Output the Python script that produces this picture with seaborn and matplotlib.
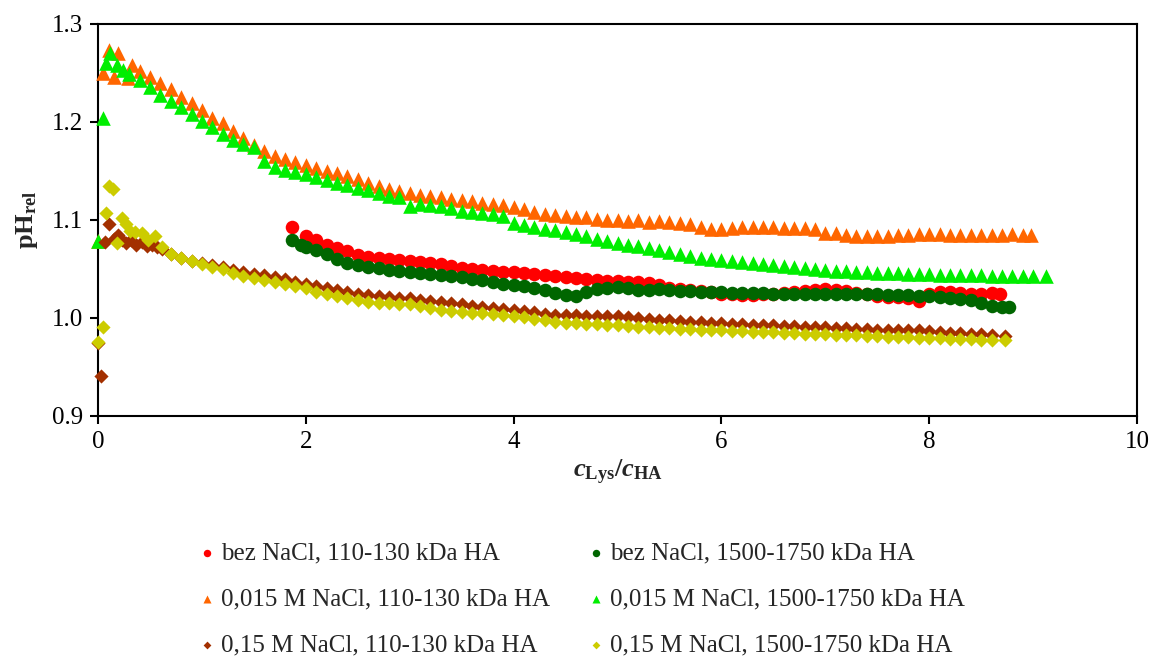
import matplotlib
matplotlib.use("Agg")
import matplotlib.pyplot as plt
import pandas as pd
import seaborn as sns
from matplotlib.ticker import FormatStrFormatter

# ---------------- data ----------------
labels = [
    "bez NaCl, 110-130 kDa HA",
    "bez NaCl, 1500-1750 kDa HA",
    "0,015 M NaCl, 110-130 kDa HA",
    "0,015 M NaCl, 1500-1750 kDa HA",
    "0,15 M NaCl, 110-130 kDa HA",
    "0,15 M NaCl, 1500-1750 kDa HA",
]

bez_110 = [(1.87, 1.093), (2.0, 1.084), (2.1, 1.080), (2.2, 1.075), (2.3, 1.071), (2.4, 1.068),
           (2.5, 1.064), (2.6, 1.062), (2.7, 1.061), (2.8, 1.060), (2.9, 1.059), (3.0, 1.058),
           (3.1, 1.057), (3.2, 1.056), (3.3, 1.055), (3.4, 1.053), (3.5, 1.051), (3.6, 1.050),
           (3.7, 1.049), (3.8, 1.048), (3.9, 1.047), (4.0, 1.047), (4.1, 1.046), (4.2, 1.045),
           (4.3, 1.044), (4.4, 1.043), (4.5, 1.042), (4.6, 1.041), (4.7, 1.040), (4.8, 1.039),
           (4.9, 1.038), (5.0, 1.038), (5.1, 1.037), (5.2, 1.037), (5.3, 1.036), (5.4, 1.034),
           (5.5, 1.031), (5.6, 1.030), (5.7, 1.029), (5.8, 1.028), (5.9, 1.027), (6.0, 1.025),
           (6.1, 1.024), (6.2, 1.023), (6.3, 1.023), (6.4, 1.024), (6.5, 1.025), (6.6, 1.026),
           (6.7, 1.027), (6.8, 1.028), (6.9, 1.029), (7.0, 1.030), (7.1, 1.029), (7.2, 1.028),
           (7.3, 1.026), (7.4, 1.024), (7.5, 1.022), (7.6, 1.021), (7.7, 1.021), (7.8, 1.020),
           (7.9, 1.017), (8.0, 1.024), (8.1, 1.027), (8.2, 1.027), (8.3, 1.026), (8.4, 1.025),
           (8.5, 1.025), (8.6, 1.026), (8.68, 1.025)]

bez_1500 = [(1.87, 1.080), (1.95, 1.074), (2.0, 1.072), (2.1, 1.069), (2.2, 1.065), (2.3, 1.060),
            (2.4, 1.056), (2.5, 1.054), (2.6, 1.052), (2.7, 1.051), (2.8, 1.049), (2.9, 1.048),
            (3.0, 1.047), (3.1, 1.046), (3.2, 1.045), (3.3, 1.044), (3.4, 1.043), (3.5, 1.042),
            (3.6, 1.040), (3.7, 1.039), (3.8, 1.037), (3.9, 1.035), (4.0, 1.034), (4.1, 1.033),
            (4.2, 1.031), (4.3, 1.029), (4.4, 1.026), (4.5, 1.023), (4.6, 1.022), (4.7, 1.027),
            (4.8, 1.030), (4.9, 1.031), (5.0, 1.032), (5.1, 1.031), (5.2, 1.029), (5.3, 1.029),
            (5.4, 1.030), (5.5, 1.029), (5.6, 1.028), (5.7, 1.028), (5.8, 1.027), (5.9, 1.027),
            (6.0, 1.027), (6.1, 1.026), (6.2, 1.026), (6.3, 1.026), (6.4, 1.026), (6.5, 1.025),
            (6.6, 1.025), (6.7, 1.025), (6.8, 1.025), (6.9, 1.025), (7.0, 1.025), (7.1, 1.025),
            (7.2, 1.024), (7.3, 1.024), (7.4, 1.024), (7.5, 1.024), (7.6, 1.023), (7.7, 1.023),
            (7.8, 1.023), (7.9, 1.022), (8.0, 1.022), (8.1, 1.021), (8.2, 1.020), (8.3, 1.019),
            (8.4, 1.018), (8.5, 1.015), (8.6, 1.012), (8.7, 1.011), (8.77, 1.011)]

m015_110 = [(0.0, 1.079), (0.045, 1.250), (0.11, 1.273), (0.15, 1.246), (0.195, 1.270), (0.29, 1.245),
            (0.33, 1.258), (0.4, 1.252), (0.5, 1.246), (0.6, 1.240), (0.7, 1.234), (0.8, 1.226),
            (0.9, 1.219), (1.0, 1.212), (1.1, 1.204), (1.2, 1.199), (1.3, 1.191), (1.4, 1.184),
            (1.5, 1.177), (1.6, 1.170), (1.7, 1.165), (1.8, 1.162), (1.9, 1.159), (2.0, 1.156),
            (2.1, 1.153), (2.2, 1.150), (2.3, 1.148), (2.4, 1.145), (2.5, 1.142), (2.6, 1.138),
            (2.7, 1.135), (2.8, 1.132), (2.9, 1.130), (3.0, 1.128), (3.1, 1.126), (3.2, 1.125),
            (3.3, 1.123), (3.4, 1.121), (3.5, 1.120), (3.6, 1.119), (3.7, 1.117), (3.8, 1.116),
            (3.9, 1.115), (4.0, 1.113), (4.1, 1.111), (4.2, 1.108), (4.3, 1.106), (4.4, 1.105),
            (4.5, 1.104), (4.6, 1.103), (4.7, 1.103), (4.8, 1.101), (4.9, 1.100), (5.0, 1.100),
            (5.1, 1.099), (5.2, 1.100), (5.3, 1.098), (5.4, 1.099), (5.5, 1.098), (5.6, 1.097),
            (5.7, 1.096), (5.8, 1.093), (5.9, 1.091), (6.0, 1.091), (6.1, 1.092), (6.2, 1.093),
            (6.3, 1.093), (6.4, 1.093), (6.5, 1.093), (6.6, 1.092), (6.7, 1.092), (6.8, 1.092),
            (6.9, 1.091), (7.0, 1.087), (7.1, 1.087), (7.2, 1.085), (7.3, 1.084), (7.4, 1.084),
            (7.5, 1.084), (7.6, 1.084), (7.7, 1.085), (7.8, 1.085), (7.9, 1.086), (8.0, 1.086),
            (8.1, 1.086), (8.2, 1.085), (8.3, 1.085), (8.4, 1.085), (8.5, 1.085), (8.6, 1.085),
            (8.7, 1.085), (8.8, 1.086), (8.9, 1.085), (8.98, 1.085)]

m015_1500 = [(0.0, 1.079), (0.045, 1.204), (0.08, 1.260), (0.12, 1.270), (0.18, 1.258), (0.24, 1.253),
             (0.3, 1.249), (0.4, 1.243), (0.5, 1.236), (0.6, 1.228), (0.7, 1.221), (0.8, 1.215),
             (0.9, 1.208), (1.0, 1.201), (1.1, 1.195), (1.2, 1.188), (1.3, 1.182), (1.4, 1.178),
             (1.5, 1.174), (1.6, 1.160), (1.7, 1.154), (1.8, 1.151), (1.9, 1.149), (2.0, 1.147),
             (2.1, 1.144), (2.2, 1.141), (2.3, 1.138), (2.4, 1.136), (2.5, 1.133), (2.6, 1.131),
             (2.7, 1.128), (2.8, 1.125), (2.9, 1.123), (3.0, 1.114), (3.1, 1.116), (3.2, 1.115),
             (3.3, 1.114), (3.4, 1.112), (3.5, 1.109), (3.6, 1.108), (3.7, 1.107), (3.8, 1.106),
             (3.9, 1.104), (4.0, 1.097), (4.1, 1.095), (4.2, 1.093), (4.3, 1.091), (4.4, 1.090),
             (4.5, 1.088), (4.6, 1.086), (4.7, 1.084), (4.8, 1.081), (4.9, 1.079), (5.0, 1.077),
             (5.1, 1.075), (5.2, 1.073), (5.3, 1.071), (5.4, 1.069), (5.5, 1.067), (5.6, 1.065),
             (5.7, 1.063), (5.8, 1.061), (5.9, 1.060), (6.0, 1.059), (6.1, 1.058), (6.2, 1.057),
             (6.3, 1.056), (6.4, 1.055), (6.5, 1.054), (6.6, 1.053), (6.7, 1.052), (6.8, 1.051),
             (6.9, 1.050), (7.0, 1.049), (7.1, 1.048), (7.2, 1.048), (7.3, 1.047), (7.4, 1.047),
             (7.5, 1.046), (7.6, 1.046), (7.7, 1.046), (7.8, 1.045), (7.9, 1.045), (8.0, 1.045),
             (8.1, 1.044), (8.2, 1.044), (8.3, 1.044), (8.4, 1.044), (8.5, 1.044), (8.6, 1.043),
             (8.7, 1.043), (8.8, 1.043), (8.9, 1.043), (9.0, 1.043), (9.12, 1.043)]

m15_110 = [(0.0, 0.975), (0.03, 0.941), (0.07, 1.078), (0.11, 1.096), (0.15, 1.081), (0.19, 1.085),
           (0.23, 1.080), (0.27, 1.077), (0.32, 1.080), (0.37, 1.075), (0.42, 1.078), (0.47, 1.073),
           (0.52, 1.075), (0.57, 1.072), (0.62, 1.070), (0.7, 1.065), (0.8, 1.061), (0.9, 1.058),
           (1.0, 1.056), (1.1, 1.054), (1.2, 1.052), (1.3, 1.049), (1.4, 1.047), (1.5, 1.045),
           (1.6, 1.044), (1.7, 1.042), (1.8, 1.040), (1.9, 1.037), (2.0, 1.035), (2.1, 1.033),
           (2.2, 1.031), (2.3, 1.029), (2.4, 1.027), (2.5, 1.025), (2.6, 1.023), (2.7, 1.022),
           (2.8, 1.021), (2.9, 1.020), (3.0, 1.020), (3.1, 1.018), (3.2, 1.017), (3.3, 1.016),
           (3.4, 1.015), (3.5, 1.014), (3.6, 1.012), (3.7, 1.011), (3.8, 1.010), (3.9, 1.009),
           (4.0, 1.008), (4.1, 1.007), (4.2, 1.006), (4.3, 1.004), (4.4, 1.003), (4.5, 1.003),
           (4.6, 1.003), (4.7, 1.002), (4.8, 1.002), (4.9, 1.002), (5.0, 1.002), (5.1, 1.001),
           (5.2, 1.000), (5.3, 0.999), (5.4, 0.998), (5.5, 0.998), (5.6, 0.997), (5.7, 0.996),
           (5.8, 0.996), (5.9, 0.995), (6.0, 0.995), (6.1, 0.994), (6.2, 0.994), (6.3, 0.993),
           (6.4, 0.993), (6.5, 0.993), (6.6, 0.992), (6.7, 0.992), (6.8, 0.991), (6.9, 0.991),
           (7.0, 0.991), (7.1, 0.990), (7.2, 0.990), (7.3, 0.989), (7.4, 0.989), (7.5, 0.988),
           (7.6, 0.988), (7.7, 0.988), (7.8, 0.988), (7.9, 0.988), (8.0, 0.987), (8.1, 0.986),
           (8.2, 0.985), (8.3, 0.985), (8.4, 0.984), (8.5, 0.984), (8.6, 0.983), (8.73, 0.982)]

m15_1500 = [(0.0, 0.976), (0.05, 0.991), (0.08, 1.107), (0.11, 1.135), (0.14, 1.132), (0.18, 1.077),
            (0.23, 1.102), (0.27, 1.096), (0.31, 1.089), (0.36, 1.088), (0.42, 1.087), (0.48, 1.080),
            (0.55, 1.084), (0.62, 1.072), (0.7, 1.065), (0.8, 1.061), (0.9, 1.058), (1.0, 1.055),
            (1.1, 1.052), (1.2, 1.050), (1.3, 1.046), (1.4, 1.043), (1.5, 1.041), (1.6, 1.039),
            (1.7, 1.037), (1.8, 1.035), (1.9, 1.033), (2.0, 1.031), (2.1, 1.027), (2.2, 1.024),
            (2.3, 1.022), (2.4, 1.020), (2.5, 1.018), (2.6, 1.016), (2.7, 1.015), (2.8, 1.015),
            (2.9, 1.014), (3.0, 1.014), (3.1, 1.012), (3.2, 1.010), (3.3, 1.008), (3.4, 1.007),
            (3.5, 1.006), (3.6, 1.005), (3.7, 1.005), (3.8, 1.004), (3.9, 1.003), (4.0, 1.002),
            (4.1, 1.001), (4.2, 0.999), (4.3, 0.998), (4.4, 0.996), (4.5, 0.995), (4.6, 0.995),
            (4.7, 0.994), (4.8, 0.994), (4.9, 0.993), (5.0, 0.993), (5.1, 0.992), (5.2, 0.991),
            (5.3, 0.991), (5.4, 0.990), (5.5, 0.990), (5.6, 0.989), (5.7, 0.989), (5.8, 0.988),
            (5.9, 0.988), (6.0, 0.988), (6.1, 0.987), (6.2, 0.987), (6.3, 0.986), (6.4, 0.986),
            (6.5, 0.986), (6.6, 0.985), (6.7, 0.985), (6.8, 0.984), (6.9, 0.984), (7.0, 0.984),
            (7.1, 0.983), (7.2, 0.983), (7.3, 0.983), (7.4, 0.982), (7.5, 0.982), (7.6, 0.981),
            (7.7, 0.981), (7.8, 0.981), (7.9, 0.980), (8.0, 0.980), (8.1, 0.980), (8.2, 0.979),
            (8.3, 0.979), (8.4, 0.979), (8.5, 0.978), (8.6, 0.978), (8.73, 0.978)]

x_ticks = [0, 2, 4, 6, 8, 10]
y_ticks = [0.9, 1.0, 1.1, 1.2, 1.3]

# ---------------- styling ----------------
series = [bez_110, bez_1500, m015_110, m015_1500, m15_110, m15_1500]
colors = ["#FF0000", "#006600", "#FF6600", "#00EE00", "#A33000", "#CCCC00"]
markers = ["o", "o", "^", "^", "D", "D"]
sizes = [95, 95, 110, 110, 52, 52]

sns.set_style("white")
plt.rcParams["font.family"] = ["Liberation Serif", "DejaVu Serif"]
plt.rcParams["mathtext.fontset"] = "custom"
plt.rcParams["mathtext.rm"] = "Liberation Serif"
plt.rcParams["mathtext.it"] = "Liberation Serif:italic:bold"
plt.rcParams["mathtext.bf"] = "Liberation Serif:bold"

fig = plt.figure(figsize=(11.54, 6.6), dpi=100)
ax = fig.add_axes([98 / 1154, 1 - 416 / 660, (1137 - 98) / 1154, (416 - 24) / 660])

for data, lab, col, mk, sz in zip(series, labels, colors, markers, sizes):
    df = pd.DataFrame(data, columns=["x", "y"])
    sns.scatterplot(data=df, x="x", y="y", color=col, marker=mk, s=sz,
                    linewidth=0, ax=ax, label=lab, legend=False, clip_on=False, zorder=3)

ax.set_xlim(0, 10)
ax.set_ylim(0.9, 1.3)
ax.set_xticks(x_ticks)
ax.set_yticks(y_ticks)
ax.yaxis.set_major_formatter(FormatStrFormatter("%.1f"))
ax.tick_params(axis="both", which="major", direction="out", length=6, width=1.5,
               labelsize=18, color="black", labelcolor="black")
ax.tick_params(axis="x", pad=5)
ax.tick_params(axis="y", pad=5)
ax.tick_params(left=True, bottom=True, top=False, right=False)
for sp in ax.spines.values():
    sp.set_color("black")
    sp.set_linewidth(1.5)
ax.grid(False)

ax.set_xlabel(r"$\mathit{c}_{\mathbf{Lys}}\mathbf{/}\mathit{c}_{\mathbf{HA}}$", fontsize=19, labelpad=3)
ax.set_ylabel(r"$\mathbf{pH}_{\mathbf{rel}}$", fontsize=19, labelpad=8)

# legend: column-wise order (left column: 110-130 kDa, right column: 1500-1750 kDa)
h, l = ax.get_legend_handles_labels()
order = [0, 2, 4, 1, 3, 5]
fig.legend([h[i] for i in order], [l[i] for i in order], loc="center",
           bbox_to_anchor=(0.505, 0.092), ncol=2, frameon=False, fontsize=18,
           markerscale=0.55, handlelength=0.5, handletextpad=0.3,
           columnspacing=1.6, labelspacing=0.95)

fig.savefig("out.png", dpi=100)
